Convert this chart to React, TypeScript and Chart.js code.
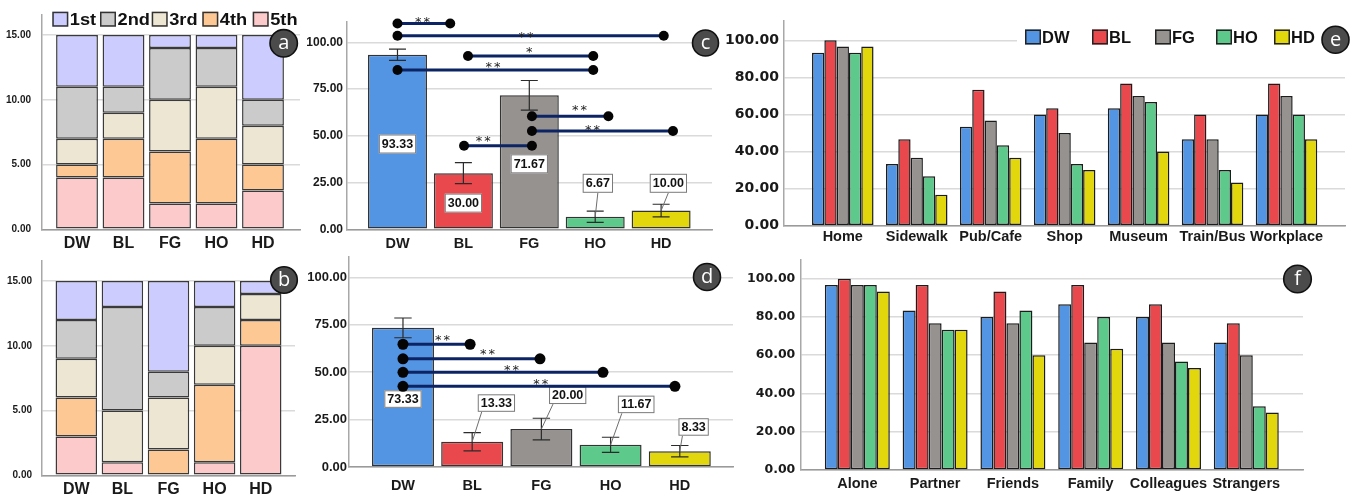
import React, { useEffect, useRef } from 'react';
import { Chart, registerables } from 'chart.js';

Chart.register(...registerables);

const F = "'Liberation Sans', Arial, sans-serif";
const FD = "'DejaVu Sans', Verdana, sans-serif";
const FB = "'Open Sans', 'DejaVu Sans', sans-serif";

// ---------------- categories ----------------
const groups = ['DW', 'BL', 'FG', 'HO', 'HD'];
const groupColors = ['#5495e3', '#e9484d', '#969290', '#5dc98a', '#e2d60c'];
const ranks = ['1st', '2nd', '3rd', '4th', '5th'];
const rankColors = ['#ccccfe', '#cbcbcb', '#ece6d2', '#fdc893', '#fdcacc'];

// ---------------- panel a: rank counts ----------------
const aRank1 = [4, 4, 1, 1, 5];
const aRank2 = [4, 2, 4, 3, 2];
const aRank3 = [2, 2, 4, 4, 3];
const aRank4 = [1, 3, 4, 5, 2];
const aRank5 = [4, 4, 2, 2, 3];

// ---------------- panel b: rank counts ----------------
const bRank1 = [3, 2, 7, 2, 1];
const bRank2 = [3, 8, 2, 3, 0];
const bRank3 = [3, 4, 4, 3, 2];
const bRank4 = [3, 0, 2, 6, 2];
const bRank5 = [3, 1, 0, 1, 10];

// ---------------- panels c, d: means and error ----------------
const cMeans = [93.33, 30.0, 71.67, 6.67, 10.0];
const cErrors = [3.0, 5.6, 7.9, 3.0, 3.4];
const dMeans = [73.33, 13.33, 20.0, 11.67, 8.33];
const dErrors = [5.2, 4.8, 5.7, 4.0, 3.0];

// significance comparisons (from / to in category units, level in value units)
const cSig = [
  { from: 0, to: 0.8, y: 110, text: '**', tx: 0.38, ty: 113 },
  { from: 0, to: 4.04, y: 103.5, text: '**', tx: 1.95, ty: 104.8 },
  { from: 1.07, to: 2.97, y: 92.7, text: '*', tx: 2.0, ty: 96.8 },
  { from: 0, to: 2.97, y: 85.2, text: '**', tx: 1.45, ty: 88.8 },
  { from: 2.04, to: 3.2, y: 60.4, text: '**', tx: 2.76, ty: 65.6 },
  { from: 2.04, to: 4.18, y: 52.6, text: '**', tx: 2.96, ty: 55.2 },
  { from: 1.01, to: 2.04, y: 44.7, text: '**', tx: 1.3, ty: 49.2 },
];
const dSig = [
  { from: 0, to: 0.97, y: 64.7, text: '**', tx: 0.57, ty: 69 },
  { from: 0, to: 1.98, y: 57, text: '**', tx: 1.22, ty: 61.7 },
  { from: 0, to: 2.89, y: 49.9, text: '**', tx: 1.57, ty: 53.2 },
  { from: 0, to: 3.93, y: 42.5, text: '**', tx: 1.99, ty: 45.5 },
];

// value-label placement
const cLabelAt = [
  { dx: 0, y: 45.6, leader: false },
  { dx: 0, y: 14, leader: false },
  { dx: 0, y: 35, leader: false },
  { dx: 0.04, y: 24.6, leader: true },
  { dx: 0.11, y: 24.6, leader: true },
];
const dLabelAt = [
  { dx: 0, y: 35.8, leader: false },
  { dx: 0.35, y: 33.7, leader: true },
  { dx: 0.38, y: 37.8, leader: true },
  { dx: 0.37, y: 33, leader: true },
  { dx: 0.2, y: 21.1, leader: true },
];

// ---------------- panel e: places ----------------
const places = ['Home', 'Sidewalk', 'Pub/Cafe', 'Shop', 'Museum', 'Train/Bus', 'Workplace'];
const placeDW = [93.33, 33.33, 53.33, 60.0, 63.33, 46.67, 60.0];
const placeBL = [100.0, 46.67, 73.33, 63.33, 76.67, 60.0, 76.67];
const placeFG = [96.67, 36.67, 56.67, 50.0, 70.0, 46.67, 70.0];
const placeHO = [93.33, 26.67, 43.33, 33.33, 66.67, 30.0, 60.0];
const placeHD = [96.67, 16.67, 36.67, 30.0, 40.0, 23.33, 46.67];

// ---------------- panel f: company ----------------
const company = ['Alone', 'Partner', 'Friends', 'Family', 'Colleagues', 'Strangers'];
const compDW = [96.67, 83.33, 80.0, 86.67, 80.0, 66.67];
const compBL = [100.0, 96.67, 93.33, 96.67, 86.67, 76.67];
const compFG = [96.67, 76.67, 76.67, 66.67, 66.67, 60.0];
const compHO = [96.67, 73.33, 83.33, 80.0, 56.67, 33.33];
const compHD = [93.33, 73.33, 60.0, 63.33, 53.33, 30.0];

// ---------------- tick values ----------------
const stackTicks = [0, 5, 10, 15];
const meanTicks = [0, 25, 50, 75, 100];
const pctTicks = [0, 20, 40, 60, 80, 100];

// ---------------- helpers ----------------
const pts = (vals: number[]) => vals.map((y, x) => ({ x, y }));

function yAxis(max: number, ticks: number[], size: number, family: string, width: number, pad: number, stacked = false) {
  return {
    type: 'linear',
    min: 0,
    max,
    stacked,
    bounds: 'data',
    afterBuildTicks: (s: any) => {
      s.ticks = ticks.map((v) => ({ value: v }));
    },
    afterFit: (s: any) => {
      s.width = width;
      s.paddingTop = 0;
      s.paddingBottom = 0;
    },
    grid: { color: '#dadada', lineWidth: 1.5, drawTicks: false },
    border: { display: true, color: '#a8a8a8', width: 1.5 },
    ticks: {
      padding: pad,
      color: '#1a1a1a',
      font: { family, size, weight: 'bold' },
      callback: (v: any) => Number(v).toFixed(2),
    },
  };
}

function xAxis(min: number, max: number, labels: string[], size: number, height: number, pad: number, stacked = false) {
  return {
    type: 'linear',
    min,
    max,
    stacked,
    offset: false,
    bounds: 'data',
    afterBuildTicks: (s: any) => {
      s.ticks = labels.map((_, i) => ({ value: i }));
    },
    afterFit: (s: any) => {
      s.height = height;
      s.paddingLeft = 0;
      s.paddingRight = 0;
    },
    grid: { display: false, drawTicks: false },
    border: { display: true, color: '#9a9a9a', width: 1.5 },
    ticks: {
      padding: pad,
      autoSkip: false,
      maxRotation: 0,
      minRotation: 0,
      color: '#1a1a1a',
      font: { family: F, size, weight: 'bold' },
      callback: (_v: any, i: number) => labels[i],
    },
  };
}

function baseConfig(padding: any, scales: any, datasets: any[], plugins: any[]) {
  return {
    type: 'bar',
    data: { datasets },
    options: {
      responsive: false,
      animation: false,
      devicePixelRatio: 1,
      events: [],
      layout: { padding },
      plugins: { legend: { display: false }, tooltip: { enabled: false } },
      scales,
    },
    plugins,
  };
}

function drawBadge(ctx: CanvasRenderingContext2D, cx: number, cy: number, r: number, letter: string) {
  ctx.save();
  ctx.beginPath();
  ctx.arc(cx, cy, r, 0, Math.PI * 2);
  ctx.fillStyle = '#4b4b4b';
  ctx.fill();
  ctx.lineWidth = 1.6;
  ctx.strokeStyle = '#111';
  ctx.stroke();
  ctx.fillStyle = '#fff';
  ctx.font = `20px ${FB}`;
  ctx.textAlign = 'center';
  ctx.textBaseline = 'alphabetic';
  ctx.fillText(letter, cx, cy + 6);
  ctx.restore();
}

function stretchText(ctx: CanvasRenderingContext2D, text: string, x: number, y: number, font: string, sx: number) {
  ctx.save();
  ctx.font = font;
  ctx.fillStyle = '#111';
  ctx.textAlign = 'left';
  ctx.textBaseline = 'middle';
  ctx.translate(x, y);
  ctx.scale(sx, 1);
  ctx.fillText(text, 0, 0);
  ctx.restore();
}

function badgePlugin(id: string, letter: string, cx: number, cy: number, r: number) {
  return {
    id,
    afterDraw(chart: any) {
      drawBadge(chart.ctx, cx, cy, r, letter);
    },
  };
}

// legend of panel a (box left x, page coords)
const rankLegendX = [52.3, 100, 151.7, 202.3, 252.7];
const rankLegendPlugin = {
  id: 'rankLegend',
  afterDraw(chart: any) {
    const ctx = chart.ctx;
    ranks.forEach((r, i) => {
      const x = rankLegendX[i];
      ctx.save();
      ctx.fillStyle = rankColors[i];
      ctx.fillRect(x, 11.7, 16, 15);
      ctx.strokeStyle = '#333';
      ctx.lineWidth = 1.5;
      ctx.strokeRect(x + 0.75, 12.45, 14.5, 13.5);
      ctx.restore();
      stretchText(ctx, r, x + 17.5, 20.5, `bold 16px ${F}`, 1.14);
    });
  },
};

// legend of panel e (box left x, page coords; canvas starts at 720)
const groupLegendX = [1025, 1092, 1155, 1216, 1274];
const groupLegendPlugin = {
  id: 'groupLegend',
  afterDraw(chart: any) {
    const ctx = chart.ctx;
    const off = 720;
    ctx.save();
    ctx.fillStyle = '#fff';
    ctx.fillRect(1017 - off, 29, 1346 - 1017, 21);
    groups.forEach((g, i) => {
      const x = groupLegendX[i] - off;
      ctx.fillStyle = groupColors[i];
      ctx.fillRect(x, 29.5, 16, 15);
      ctx.strokeStyle = '#222';
      ctx.lineWidth = 1.5;
      ctx.strokeRect(x + 0.75, 30.25, 14.5, 13.5);
      ctx.font = `bold 16.5px ${F}`;
      ctx.fillStyle = '#111';
      ctx.textAlign = 'left';
      ctx.textBaseline = 'middle';
      ctx.fillText(g, x + 17, 38.5);
    });
    ctx.restore();
  },
};

function meanPlugin(means: number[], errs: number[], labelAt: any[], sig: any[], o: any) {
  return {
    id: 'meanDecor',
    afterDatasetsDraw(chart: any) {
      const ctx = chart.ctx;
      const x = chart.scales.x;
      const y = chart.scales.y;
      ctx.save();
      // error bars
      ctx.strokeStyle = '#2b2b2b';
      ctx.lineWidth = 1.2;
      means.forEach((m, i) => {
        const px = x.getPixelForValue(i);
        const t = y.getPixelForValue(m + errs[i]);
        const b = y.getPixelForValue(m - errs[i]);
        ctx.beginPath();
        ctx.moveTo(px, t);
        ctx.lineTo(px, b);
        ctx.moveTo(px - o.cap, t);
        ctx.lineTo(px + o.cap, t);
        ctx.moveTo(px - o.cap, b);
        ctx.lineTo(px + o.cap, b);
        ctx.stroke();
      });
      // value labels
      means.forEach((m, i) => {
        const L = labelAt[i];
        const text = m.toFixed(2);
        ctx.font = `bold ${o.labelSize}px ${F}`;
        const cx = x.getPixelForValue(i + L.dx);
        const cy = y.getPixelForValue(L.y);
        const w = ctx.measureText(text).width + 6;
        const h = o.boxH;
        if (L.leader) {
          ctx.strokeStyle = '#6e6e6e';
          ctx.lineWidth = 1;
          const sx = o.leadLeft ? cx - w / 2 + 4 : cx;
          ctx.beginPath();
          ctx.moveTo(sx, cy + h / 2);
          ctx.lineTo(x.getPixelForValue(i), y.getPixelForValue(m));
          ctx.stroke();
        }
        ctx.fillStyle = '#fff';
        ctx.fillRect(cx - w / 2, cy - h / 2, w, h);
        ctx.strokeStyle = '#7a7a7a';
        ctx.lineWidth = 1;
        ctx.strokeRect(cx - w / 2 + 0.5, cy - h / 2 + 0.5, w - 1, h - 1);
        ctx.fillStyle = '#111';
        ctx.textAlign = 'center';
        ctx.textBaseline = 'middle';
        ctx.fillText(text, cx, cy + 0.5);
      });
      // significance lines
      sig.forEach((s) => {
        const x1 = x.getPixelForValue(s.from);
        const x2 = x.getPixelForValue(s.to);
        const py = y.getPixelForValue(s.y);
        ctx.strokeStyle = '#0d2464';
        ctx.lineWidth = o.lineW;
        ctx.beginPath();
        ctx.moveTo(x1, py);
        ctx.lineTo(x2, py);
        ctx.stroke();
        ctx.fillStyle = '#050505';
        [x1, x2].forEach((px) => {
          ctx.beginPath();
          ctx.arc(px, py, o.dotR, 0, Math.PI * 2);
          ctx.fill();
        });
        ctx.font = `13px ${FD}`;
        (ctx as any).letterSpacing = '2px';
        ctx.textAlign = 'center';
        ctx.textBaseline = 'alphabetic';
        ctx.fillStyle = '#222';
        ctx.fillText(s.text, x.getPixelForValue(s.tx) + 1, y.getPixelForValue(s.ty) + 7.6);
        (ctx as any).letterSpacing = '0px';
      });
      ctx.restore();
    },
  };
}

// ---------------- panel configs ----------------
function stackedDatasets(series: number[][]) {
  // series given 1st..5th; draw 5th at bottom
  return series
    .map((vals, i) => ({
      data: pts(vals),
      backgroundColor: rankColors[i],
      borderColor: '#3a3a3a',
      borderWidth: 1.5,
      borderSkipped: false,
      barPercentage: 0.9,
      categoryPercentage: 1,
    }))
    .reverse();
}

function groupedDatasets(series: number[][], pct: number) {
  return series.map((vals, i) => ({
    data: pts(vals),
    backgroundColor: groupColors[i],
    borderColor: '#1c1c1c',
    borderWidth: 1.5,
    borderSkipped: false,
    barPercentage: 1,
    categoryPercentage: pct,
  }));
}

function meanDataset(vals: number[], pct: number) {
  return [
    {
      data: pts(vals),
      backgroundColor: groupColors,
      borderColor: '#333',
      borderWidth: 1.5,
      borderSkipped: false,
      barPercentage: pct,
      categoryPercentage: 1,
    },
  ];
}

const panels = [
  {
    key: 'a', left: 0, top: 0, width: 305, height: 250,
    build: () =>
      baseConfig(
        { left: 0, right: 5, top: 14.3, bottom: 0 },
        {
          x: xAxis(-0.753, 4.796, groups, 16, 20.7, 4.6, true),
          y: yAxis(16.6, stackTicks, 10, F, 42, 11, true),
        },
        stackedDatasets([aRank1, aRank2, aRank3, aRank4, aRank5]),
        [rankLegendPlugin, badgePlugin('badgeA', 'a', 283.7, 43.3, 13.7)]
      ),
  },
  {
    key: 'b', left: 0, top: 250, width: 305, height: 250,
    build: () =>
      baseConfig(
        { left: 0, right: 10, top: 10.3, bottom: 0 },
        {
          x: xAxis(-0.744, 4.744, groups, 16, 24.7, 5, true),
          y: yAxis(16.6, stackTicks, 10, F, 42, 10, true),
        },
        stackedDatasets([bRank1, bRank2, bRank3, bRank4, bRank5]),
        [badgePlugin('badgeB', 'b', 284, 30, 13.3)]
      ),
  },
  {
    key: 'c', left: 300, top: 0, width: 420, height: 250,
    build: () =>
      baseConfig(
        { left: 0, right: 8, top: 21.7, bottom: 0 },
        {
          x: xAxis(-0.766, 4.772, groups, 14.5, 20.7, 5.5),
          y: yAxis(111, meanTicks, 12, F, 47, 4),
        },
        meanDataset(cMeans, 0.895),
        [
          meanPlugin(cMeans, cErrors, cLabelAt, cSig, { cap: 8.5, labelSize: 12.5, boxH: 19, leadLeft: false, lineW: 3, dotR: 5 }),
          badgePlugin('badgeC', 'c', 405.5, 43, 13),
        ]
      ),
  },
  {
    key: 'd', left: 300, top: 245, width: 440, height: 255,
    build: () =>
      baseConfig(
        { left: 0, right: 7, top: 11.4, bottom: 0 },
        {
          x: xAxis(-0.78, 4.769, groups, 14.5, 33, 9.8),
          y: yAxis(111, meanTicks, 13, F, 49, 2),
        },
        meanDataset(dMeans, 0.896),
        [
          meanPlugin(dMeans, dErrors, dLabelAt, dSig, { cap: 8.7, labelSize: 12.5, boxH: 17.5, leadLeft: true, lineW: 3, dotR: 5.5 }),
          badgePlugin('badgeD', 'd', 407, 32, 13.5),
        ]
      ),
  },
  {
    key: 'e', left: 720, top: 0, width: 633, height: 250,
    build: () =>
      baseConfig(
        { left: 0, right: 8, top: 20.8, bottom: 0 },
        {
          x: xAxis(-0.795, 6.791, places, 14.5, 24.3, 2.1),
          y: yAxis(110.5, pctTicks, 14, FD, 64, 5),
        },
        groupedDatasets([placeDW, placeBL, placeFG, placeHO, placeHD], 0.832),
        [groupLegendPlugin, badgePlugin('badgeE', 'e', 615.5, 39.7, 13.5)]
      ),
  },
  {
    key: 'f', left: 740, top: 250, width: 613, height: 250,
    build: () =>
      baseConfig(
        { left: 0, right: 50, top: 9.6, bottom: 0 },
        {
          x: xAxis(-0.733, 5.729, company, 14.5, 30, 4.8),
          y: yAxis(110, pctTicks, 12.5, FD, 60.3, 5),
        },
        groupedDatasets([compDW, compBL, compFG, compHO, compHD], 0.835),
        [badgePlugin('badgeF', 'f', 557.5, 29, 13.8)]
      ),
  },
];

function ChartBox({ left, top, width, height, build }: any) {
  const ref = useRef<HTMLCanvasElement>(null);
  useEffect(() => {
    const chart = new Chart(ref.current as HTMLCanvasElement, build() as any);
    return () => chart.destroy();
  }, []);
  return (
    <div style={{ position: 'absolute', left, top, width, height }}>
      <canvas ref={ref} width={width} height={height} style={{ display: 'block', width, height }} />
    </div>
  );
}

export default function App() {
  return (
    <div style={{ position: 'fixed', left: 0, top: 0, width: 1353, height: 500, background: '#fff', overflow: 'hidden' }}>
      {panels.map((p) => (
        <ChartBox key={p.key} left={p.left} top={p.top} width={p.width} height={p.height} build={p.build} />
      ))}
    </div>
  );
}
